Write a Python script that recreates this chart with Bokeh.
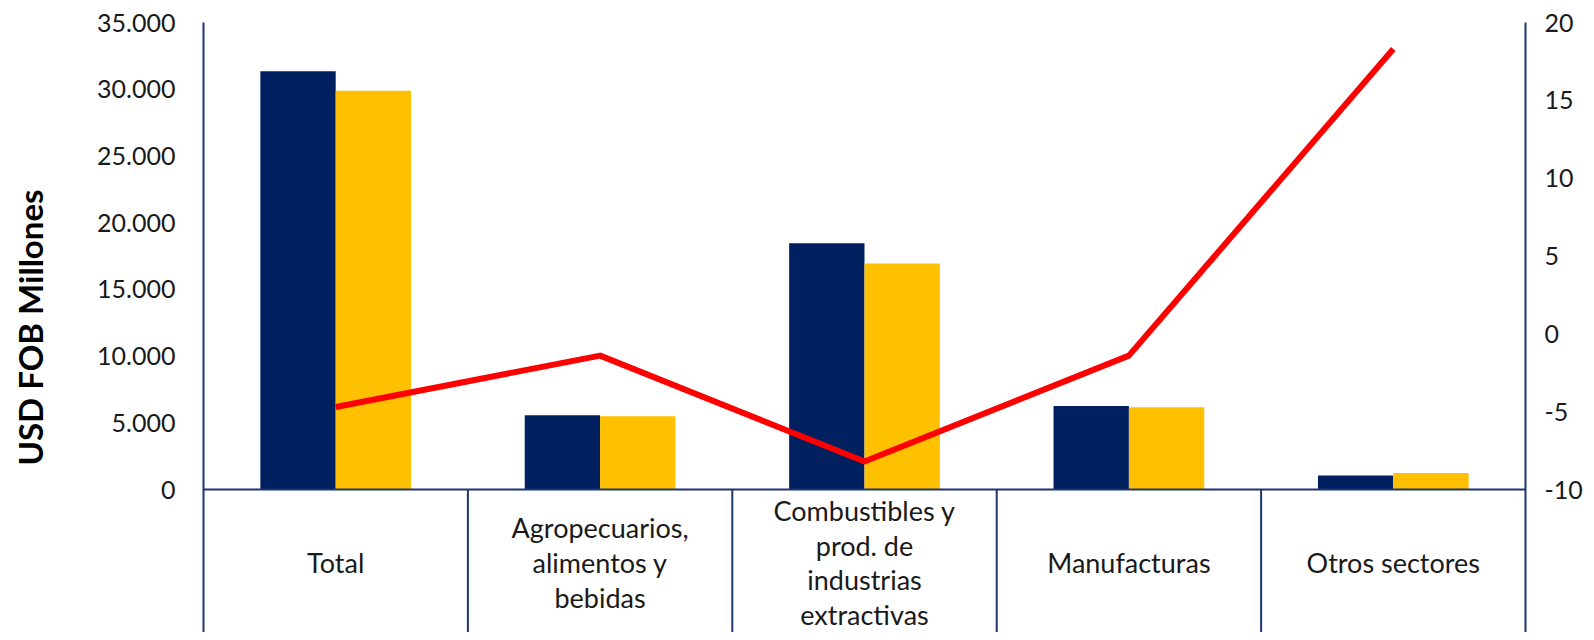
from bokeh.plotting import figure
from bokeh.models import LinearAxis, Range1d, FixedTicker, CustomJSTickFormatter, ColumnDataSource
from bokeh.core.properties import value
from bokeh.embed import file_html
from bokeh.resources import INLINE

# ---- data ----
categories = ["Total", "Agropecuarios,\nalimentos y\nbebidas",
              "Combustibles y\nprod. de\nindustrias\nextractivas",
              "Manufacturas", "Otros sectores"]
serie_anterior = [31340, 5570, 18450, 6250, 1040]   # USD FOB millones (navy)
serie_actual = [29890, 5490, 16930, 6160, 1230]     # USD FOB millones (yellow)
variacion = [-4.7, -1.4, -8.2, -1.4, 18.3]          # % (right axis)
left_ticks = [0, 5000, 10000, 15000, 20000, 25000, 30000, 35000]
right_ticks = [-10, -5, 0, 5, 10, 15, 20]

NAVY = "#002060"
YELLOW = "#FFC000"
RED = "#FF0000"
AXIS = "#1F3570"
FONT = "Lato"
TXT = "#1a1a1a"

W, H = 1586, 632
top_border = 22
left_border = 203
right_border = 61
frame_h = H - top_border
zero_px = 467  # px from frame top to zero line
below = frame_h - zero_px

ymax = 35000
ymin = -below / zero_px * ymax
rmin, rmax = -10, 20
r_start = rmin - below / zero_px * (rmax - rmin)

p = figure(width=W, height=H, output_backend="svg", toolbar_location=None,
           x_range=Range1d(0, 5), y_range=Range1d(ymin, ymax),
           x_axis_location=None, y_axis_location="left",
           min_border_top=top_border, min_border_bottom=0,
           min_border_left=left_border, min_border_right=right_border)
p.outline_line_color = None
p.xgrid.visible = False
p.ygrid.visible = False
p.background_fill_color = "white"
p.border_fill_color = "white"

p.extra_y_ranges = {"pct": Range1d(r_start, rmax)}

n = len(categories)
centers = [i + 0.5 for i in range(n)]
bw = 0.285
src = ColumnDataSource(dict(
    xa=[c - bw / 2 for c in centers], xb=[c + bw / 2 for c in centers],
    a=serie_anterior, b=serie_actual, c=centers, v=variacion,
    lab=categories, zero=[0] * n))

p.vbar(x="xa", top="a", bottom=0, width=bw, source=src, fill_color=NAVY, line_color=None)
p.vbar(x="xb", top="b", bottom=0, width=bw, source=src, fill_color=YELLOW, line_color=None)

# category table lines
p.segment(x0=[1, 2, 3, 4], y0=[0] * 4, x1=[1, 2, 3, 4], y1=[ymin] * 4,
          line_color=AXIS, line_width=2)
p.segment(x0=[0], y0=[0], x1=[5], y1=[0], line_color=AXIS, line_width=2)

p.line(x="c", y="v", source=src, y_range_name="pct", line_color=RED, line_width=6,
       line_join="round")

p.text(x="c", y="zero", text="lab", source=src, y_offset=73,
       text_align="center", text_baseline="middle",
       text_font=value(FONT), text_font_size="27px", text_color=TXT,
       text_line_height=1.05)

ya = p.yaxis[0]
ya.ticker = FixedTicker(ticks=left_ticks)
ya.formatter = CustomJSTickFormatter(code="return tick == 0 ? '0' : tick.toLocaleString('de-DE');")
ya.major_tick_out = 0
ya.major_tick_in = 0
ya.minor_tick_out = 0
ya.minor_tick_in = 0
ya.major_label_standoff = 28
ya.major_label_text_font = FONT
ya.major_label_text_font_size = "25px"
ya.major_label_text_color = TXT
ya.axis_line_color = AXIS
ya.axis_line_width = 2
ya.axis_label = "USD FOB Millones"
ya.axis_label_text_font = FONT
ya.axis_label_text_font_style = "bold"
ya.axis_label_text_font_size = "33px"
ya.axis_label_text_color = "black"
ya.axis_label_standoff = 44

ra = LinearAxis(y_range_name="pct", ticker=FixedTicker(ticks=right_ticks))
ra.formatter = CustomJSTickFormatter(code="return tick.toString();")
ra.major_tick_out = 0
ra.major_tick_in = 0
ra.minor_tick_out = 0
ra.minor_tick_in = 0
ra.major_label_standoff = 19
ra.major_label_text_font = FONT
ra.major_label_text_font_size = "25px"
ra.major_label_text_color = TXT
ra.axis_line_color = AXIS
ra.axis_line_width = 2
p.add_layout(ra, "right")

open("out.html", "w").write(file_html(p, INLINE))
